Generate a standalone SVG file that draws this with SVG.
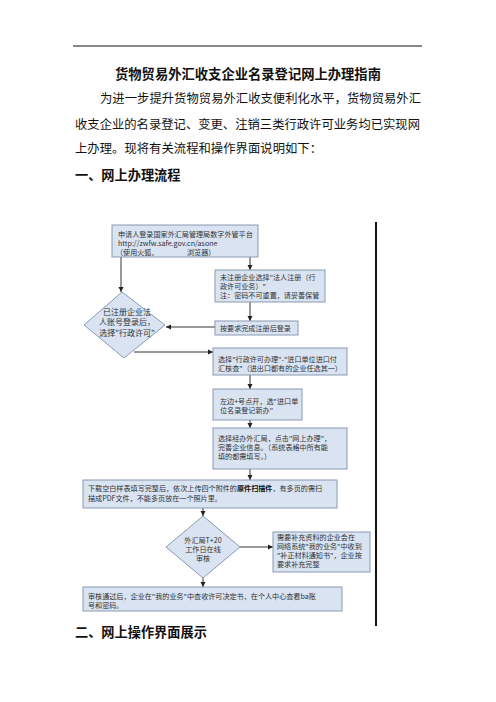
<svg xmlns="http://www.w3.org/2000/svg" width="496" height="702" viewBox="0 0 496 702">
<style>
.doc{font-family:"Noto Sans CJK SC","Noto Sans",sans-serif;fill:#111}
.title{font-size:13.3px;font-weight:bold}
.body{font-size:12.3px}
.h{font-size:13.2px;font-weight:bold}
.box{fill:#d9e3f1;stroke:#8a9ab2;stroke-width:1}
.t{font-family:"Noto Sans CJK SC","Noto Sans",sans-serif;font-size:7.1px;fill:#333}
.tb{font-weight:bold;fill:#111}
.c{fill:none;stroke:#333;stroke-width:1}
</style>
<defs>
<marker id="ah" markerWidth="6" markerHeight="6" refX="5" refY="3" orient="auto" markerUnits="userSpaceOnUse">
<path d="M0,0.5 L5,3 L0,5.5 Z" fill="#222"/>
</marker>
</defs>
<rect width="496" height="702" fill="#fff"/>
<line x1="73" y1="46" x2="422" y2="46" stroke="#111" stroke-width="1"/>
<text class="doc title" x="248" y="79" text-anchor="middle">货物贸易外汇收支企业名录登记网上办理指南</text>
<text class="doc body" x="100" y="103" textLength="321" lengthAdjust="spacing">为进一步提升货物贸易外汇收支便利化水平，货物贸易外汇</text>
<text class="doc body" x="75" y="129" textLength="345" lengthAdjust="spacing">收支企业的名录登记、变更、注销三类行政许可业务均已实现网</text>
<text class="doc body" x="75" y="153" textLength="247" lengthAdjust="spacing">上办理。现将有关流程和操作界面说明如下：</text>
<text class="doc h" x="75" y="180">一、网上办理流程</text>
<text class="doc h" x="75" y="637">二、网上操作界面展示</text>

<line x1="376" y1="222" x2="376" y2="626" stroke="#111" stroke-width="2"/>

<g id="connectors">
<path class="c" d="M121,257 V292" marker-end="url(#ah)"/>
<path class="c" d="M250,257 V270" marker-end="url(#ah)"/>
<path class="c" d="M250,302 V321" marker-end="url(#ah)"/>
<path class="c" d="M215,327 H166" marker-end="url(#ah)"/>
<path class="c" d="M134,352 H213" marker-end="url(#ah)"/>
<path class="c" d="M250,375 V389" marker-end="url(#ah)"/>
<path class="c" d="M250,420 V428" marker-end="url(#ah)"/>
<path class="c" d="M250,469 V480" marker-end="url(#ah)"/>
<path class="c" d="M203,508 V516" marker-end="url(#ah)"/>
<path class="c" d="M240,547 H273" marker-end="url(#ah)"/>
<path class="c" d="M203,578 V587" marker-end="url(#ah)"/>
</g>

<g id="n1">
<rect class="box" x="112" y="225" width="146" height="32"/>
<text class="t"><tspan x="118" y="236.5">申请人登录国家外汇局管理局数字外管平台</tspan><tspan x="118" y="245.5">http://zwfw.safe.gov.cn/asone</tspan><tspan x="116" y="254.5">（使用火狐、</tspan><tspan x="187" y="254.5">浏览器）</tspan></text>
</g>
<g id="n2">
<rect class="box" x="215" y="270" width="110" height="32"/>
<text class="t"><tspan x="220" y="280">未注册企业选择"法人注册（行</tspan><tspan x="220" y="289">政许可业务）"</tspan><tspan x="220" y="298">注：密码不可重置，请妥善保管</tspan></text>
</g>
<g id="n3">
<rect class="box" x="215" y="321" width="83" height="14"/>
<text class="t" x="220" y="330.5">按要求完成注册后登录</text>
</g>
<g id="d1">
<polygon class="box" points="122,292 165,325 124,358 84,325"/>
<text class="t" text-anchor="middle" style="font-size:8px"><tspan x="127" y="315">已注册企业法</tspan><tspan x="127" y="325.3">人账号登录后，</tspan><tspan x="127" y="335.6">选择"行政许可"</tspan></text>
</g>
<g id="n4">
<rect class="box" x="213" y="348" width="134" height="27"/>
<text class="t"><tspan x="218" y="361.5">选择"行政许可办理"-"进口单位进口付</tspan><tspan x="218" y="370.5">汇核查"（进出口都有的企业任选其一）</tspan></text>
</g>
<g id="n5">
<rect class="box" x="213" y="389" width="89" height="31"/>
<text class="t"><tspan x="220" y="403.5">左边+号点开，选"进口单</tspan><tspan x="220" y="412.5">位名录登记新办"</tspan></text>
</g>
<g id="n6">
<rect class="box" x="213" y="428" width="134" height="41"/>
<text class="t"><tspan x="218" y="441">选择经办外汇局，点击"网上办理"，</tspan><tspan x="218" y="450">完善企业信息。（系统表格中所有能</tspan><tspan x="218" y="459">填的都需填写。）</tspan></text>
</g>
<g id="n7">
<rect class="box" x="83" y="480" width="254" height="28"/>
<text class="t"><tspan x="88" y="490.5">下载空白样表填写完整后，依次上传四个附件的<tspan class="tb">原件扫描件</tspan>，有多页的需扫</tspan><tspan x="88" y="500.5">描成PDF文件，不能多页放在一个照片里。</tspan></text>
</g>
<g id="d2">
<polygon class="box" points="203,516 240,547 203,578 166,547"/>
<text class="t" text-anchor="middle"><tspan x="203" y="542.5">外汇局T+20</tspan><tspan x="203" y="551.5">工作日在线</tspan><tspan x="203" y="560.5">审核</tspan></text>
</g>
<g id="n8">
<rect class="box" x="273" y="532" width="97" height="40"/>
<text class="t"><tspan x="277" y="540">需要补充资料的企业会在</tspan><tspan x="277" y="549">网络系统"我的业务"中收到</tspan><tspan x="277" y="558">"补正材料通知书"，企业按</tspan><tspan x="277" y="567">要求补充完整</tspan></text>
</g>
<g id="n9">
<rect class="box" x="83" y="587" width="259" height="24"/>
<text class="t"><tspan x="88" y="598.5">审核通过后，企业在"我的业务"中查收许可决定书，在个人中心查看ba账</tspan><tspan x="88" y="607.5">号和密码。</tspan></text>
</g>
</svg>
